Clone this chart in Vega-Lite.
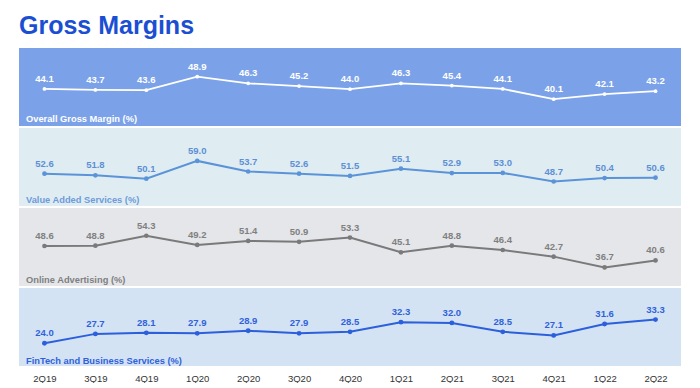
{
  "$schema": "https://vega.github.io/schema/vega-lite/v6.json",
  "padding": {"left": 19, "top": 14, "right": 0, "bottom": 0},
  "background": "white",
  "title": {"text": "Gross Margins", "anchor": "start", "frame": "group", "fontSize": 25, "font": "Liberation Sans", "fontWeight": "bold", "color": "#1B4FD3", "offset": 9},
  "datasets": {
    "overall": [
      {"q": "2Q19", "v": 44.1}, {"q": "3Q19", "v": 43.7}, {"q": "4Q19", "v": 43.6}, {"q": "1Q20", "v": 48.9},
      {"q": "2Q20", "v": 46.3}, {"q": "3Q20", "v": 45.2}, {"q": "4Q20", "v": 44.0}, {"q": "1Q21", "v": 46.3},
      {"q": "2Q21", "v": 45.4}, {"q": "3Q21", "v": 44.1}, {"q": "4Q21", "v": 40.1}, {"q": "1Q22", "v": 42.1},
      {"q": "2Q22", "v": 43.2}
    ],
    "vas": [
      {"q": "2Q19", "v": 52.6}, {"q": "3Q19", "v": 51.8}, {"q": "4Q19", "v": 50.1}, {"q": "1Q20", "v": 59.0},
      {"q": "2Q20", "v": 53.7}, {"q": "3Q20", "v": 52.6}, {"q": "4Q20", "v": 51.5}, {"q": "1Q21", "v": 55.1},
      {"q": "2Q21", "v": 52.9}, {"q": "3Q21", "v": 53.0}, {"q": "4Q21", "v": 48.7}, {"q": "1Q22", "v": 50.4},
      {"q": "2Q22", "v": 50.6}
    ],
    "ads": [
      {"q": "2Q19", "v": 48.6}, {"q": "3Q19", "v": 48.8}, {"q": "4Q19", "v": 54.3}, {"q": "1Q20", "v": 49.2},
      {"q": "2Q20", "v": 51.4}, {"q": "3Q20", "v": 50.9}, {"q": "4Q20", "v": 53.3}, {"q": "1Q21", "v": 45.1},
      {"q": "2Q21", "v": 48.8}, {"q": "3Q21", "v": 46.4}, {"q": "4Q21", "v": 42.7}, {"q": "1Q22", "v": 36.7},
      {"q": "2Q22", "v": 40.6}
    ],
    "fintech": [
      {"q": "2Q19", "v": 24.0}, {"q": "3Q19", "v": 27.7}, {"q": "4Q19", "v": 28.1}, {"q": "1Q20", "v": 27.9},
      {"q": "2Q20", "v": 28.9}, {"q": "3Q20", "v": 27.9}, {"q": "4Q20", "v": 28.5}, {"q": "1Q21", "v": 32.3},
      {"q": "2Q21", "v": 32.0}, {"q": "3Q21", "v": 28.5}, {"q": "4Q21", "v": 27.1}, {"q": "1Q22", "v": 31.6},
      {"q": "2Q22", "v": 33.3}
    ]
  },
  "spacing": 2,
  "vconcat": [
    {
      "width": 662, "height": 78,
      "view": {"fill": "#7BA2E8", "stroke": null},
      "title": {"text": "Overall Gross Margin (%)", "orient": "bottom", "anchor": "start", "frame": "group", "baseline": "alphabetic", "offset": -4, "dx": 7, "fontSize": 9.3, "fontWeight": "bold", "font": "Liberation Sans", "color": "#FFFFFF"},
      "data": {"name": "overall"},
      "encoding": {
        "x": {"field": "q", "type": "ordinal", "sort": null, "scale": {"type": "point", "padding": 0.5}, "axis": null},
        "y": {"field": "v", "type": "quantitative", "scale": {"domain": [29.6, 60.1], "nice": false, "zero": false}, "axis": null}
      },
      "layer": [
        {"mark": {"type": "line", "color": "#FFFFFF", "strokeWidth": 1.8}},
        {"mark": {"type": "point", "filled": true, "color": "#FFFFFF", "size": 14, "opacity": 1}},
        {"mark": {"type": "text", "dy": -7, "baseline": "alphabetic", "fontSize": 9.5, "fontWeight": "bold", "font": "Liberation Sans", "color": "#FFFFFF"},
         "encoding": {"text": {"field": "v", "type": "quantitative", "format": ".1f"}}}
      ]
    },
    {
      "width": 662, "height": 78,
      "view": {"fill": "#DFEDF3", "stroke": null},
      "title": {"text": "Value Added Services (%)", "orient": "bottom", "anchor": "start", "frame": "group", "baseline": "alphabetic", "offset": -3, "dx": 7, "fontSize": 9.3, "fontWeight": "bold", "font": "Liberation Sans", "color": "#6E9BDA"},
      "data": {"name": "vas"},
      "encoding": {
        "x": {"field": "q", "type": "ordinal", "sort": null, "scale": {"type": "point", "padding": 0.5}, "axis": null},
        "y": {"field": "v", "type": "quantitative", "scale": {"domain": [36.45, 75.45], "nice": false, "zero": false}, "axis": null}
      },
      "layer": [
        {"mark": {"type": "line", "color": "#5B93D8", "strokeWidth": 2}},
        {"mark": {"type": "point", "filled": true, "color": "#5B93D8", "size": 22, "opacity": 1}},
        {"mark": {"type": "text", "dy": -7, "baseline": "alphabetic", "fontSize": 9.5, "fontWeight": "bold", "font": "Liberation Sans", "color": "#5E8FD3"},
         "encoding": {"text": {"field": "v", "type": "quantitative", "format": ".1f"}}}
      ]
    },
    {
      "width": 662, "height": 78,
      "view": {"fill": "#E4E6EA", "stroke": null},
      "title": {"text": "Online Advertising (%)", "orient": "bottom", "anchor": "start", "frame": "group", "baseline": "alphabetic", "offset": -3, "dx": 7, "fontSize": 9.3, "fontWeight": "bold", "font": "Liberation Sans", "color": "#808080"},
      "data": {"name": "ads"},
      "encoding": {
        "x": {"field": "q", "type": "ordinal", "sort": null, "scale": {"type": "point", "padding": 0.5}, "axis": null},
        "y": {"field": "v", "type": "quantitative", "scale": {"domain": [26.4, 69.7], "nice": false, "zero": false}, "axis": null}
      },
      "layer": [
        {"mark": {"type": "line", "color": "#7A7A7A", "strokeWidth": 2}},
        {"mark": {"type": "point", "filled": true, "color": "#7A7A7A", "size": 22, "opacity": 1}},
        {"mark": {"type": "text", "dy": -7, "baseline": "alphabetic", "fontSize": 9.5, "fontWeight": "bold", "font": "Liberation Sans", "color": "#808080"},
         "encoding": {"text": {"field": "v", "type": "quantitative", "format": ".1f"}}}
      ]
    },
    {
      "width": 662, "height": 78,
      "view": {"fill": "#D4E3F4", "stroke": null},
      "title": {"text": "FinTech and Business Services (%)", "orient": "bottom", "anchor": "start", "frame": "group", "baseline": "alphabetic", "offset": -19, "dx": 7, "fontSize": 9.3, "fontWeight": "bold", "font": "Liberation Sans", "color": "#2F62DA"},
      "data": {"name": "fintech"},
      "encoding": {
        "x": {"field": "q", "type": "ordinal", "sort": null, "scale": {"type": "point", "padding": 0.5},
              "axis": {"title": null, "labelAngle": 0, "ticks": false, "domain": false, "grid": false, "labelFontSize": 9.5, "labelFont": "Liberation Sans", "labelColor": "#333333", "labelPadding": 7}},
        "y": {"field": "v", "type": "quantitative", "scale": {"domain": [15.1, 45.7], "nice": false, "zero": false}, "axis": null}
      },
      "layer": [
        {"mark": {"type": "line", "color": "#2C5FDB", "strokeWidth": 2}},
        {"mark": {"type": "point", "filled": true, "color": "#2C5FDB", "size": 24, "opacity": 1}},
        {"mark": {"type": "text", "dy": -7, "baseline": "alphabetic", "fontSize": 9.5, "fontWeight": "bold", "font": "Liberation Sans", "color": "#2F62DA"},
         "encoding": {"text": {"field": "v", "type": "quantitative", "format": ".1f"}}}
      ]
    }
  ],
  "config": {"view": {"stroke": null}}
}
